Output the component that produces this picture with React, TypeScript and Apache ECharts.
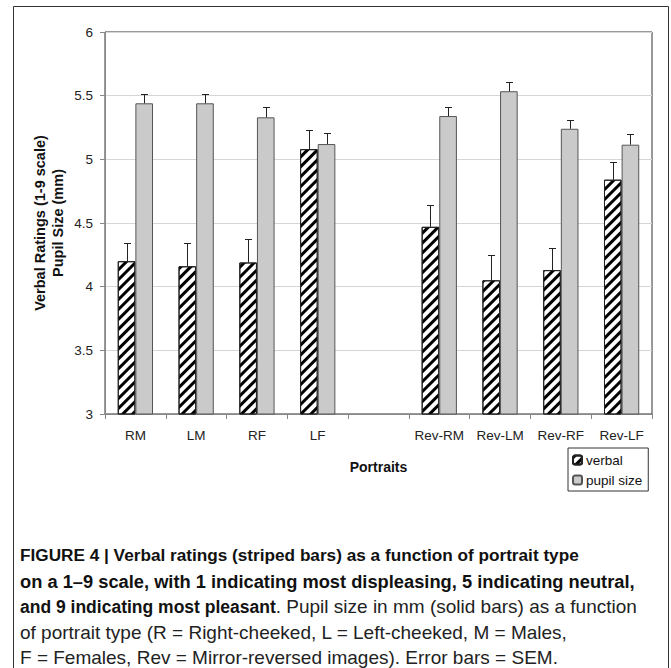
import React, { useEffect, useRef } from 'react';
import * as echarts from 'echarts';

const categories = ['RM', 'LM', 'RF', 'LF', '', 'Rev-RM', 'Rev-LM', 'Rev-RF', 'Rev-LF'];
const verbal = [4.2, 4.16, 4.19, 5.08, null, 4.47, 4.05, 4.13, 4.84];
const verbalErr = [0.146, 0.186, 0.183, 0.147, null, 0.17, 0.195, 0.17, 0.14];
const pupil = [5.44, 5.44, 5.33, 5.12, null, 5.34, 5.535, 5.24, 5.115];
const pupilErr = [0.075, 0.07, 0.08, 0.085, null, 0.07, 0.07, 0.07, 0.084];
const seriesNames = ['verbal', 'pupil size'];
const yAxisTitle = ['Verbal Ratings (1-9 scale)', 'Pupil Size (mm)'];
const xAxisTitle = 'Portraits';
const captionLines: any[] = [
  [{ t: 'FIGURE 4 | Verbal ratings (striped bars) as a function of portrait type', b: true }],
  [{ t: 'on a 1\u20139 scale, with 1 indicating most displeasing, 5 indicating neutral,', b: true }],
  [{ t: 'and 9 indicating most pleasant', b: true }, { t: '. Pupil size in mm (solid bars) as a function', b: false }],
  [{ t: 'of portrait type (R = Right-cheeked, L = Left-cheeked, M = Males,', b: false }],
  [{ t: 'F = Females, Rev = Mirror-reversed images). Error bars = SEM.', b: false }],
];

const FONT = 'Liberation Sans, Arial, Helvetica, sans-serif';
const GAP = 0.42;

function errSeries(vals: any[], errs: any[], side: number) {
  const data = vals
    .map((v, i) => (v == null ? null : [i, v, errs[i]]))
    .filter((d) => d !== null);
  return {
    type: 'custom',
    z: 5,
    silent: true,
    data,
    encode: { x: 0, y: 1 },
    renderItem: (params: any, api: any) => {
      const i = api.value(0);
      const v = api.value(1);
      const e = api.value(2);
      const band = api.size([1, 0])[0];
      const off = ((band * (1 - GAP)) / 4) * side;
      const base = api.coord([i, v]);
      const top = api.coord([i, v + e]);
      const x = Math.round(base[0] + off) + 0.5;
      const yt = Math.round(top[1]) + 0.5;
      return {
        type: 'group',
        children: [
          { type: 'line', shape: { x1: x, y1: base[1], x2: x, y2: yt }, style: { stroke: '#222', lineWidth: 1 } },
          { type: 'line', shape: { x1: x - 3.5, y1: yt, x2: x + 3.5, y2: yt }, style: { stroke: '#222', lineWidth: 1 } },
        ],
      };
    },
  };
}

export default function App() {
  const ref = useRef<HTMLDivElement>(null);
  useEffect(() => {
    document.body.style.margin = '0';
    const chart = echarts.init(ref.current as HTMLDivElement, undefined, { renderer: 'svg' });
    const captionY = [555, 581, 606.5, 632, 657.5];
    const boldSizes = [17.2, 18.3, 17.5, 17.5, 17.5];
    const NS = 19;
    const captionGraphics = captionLines.map((line, li) => {
      const rich: any = {
        b: { fontWeight: 'bold', fontSize: boldSizes[li], fontFamily: FONT, fill: '#111', height: 20 },
        n: { fontWeight: 'normal', fontSize: NS, fontFamily: FONT, fill: '#222', height: 20 },
      };
      const text = line.map((s: any) => `{${s.b ? 'b' : 'n'}|${s.t}}`).join('');
      return {
        type: 'text',
        x: 20,
        y: captionY[li],
        style: { text, rich, fontSize: boldSizes[li], fontFamily: FONT, verticalAlign: 'middle', align: 'left' },
      };
    });
    chart.setOption({
      animation: false,
      textStyle: { fontFamily: FONT },
      grid: { left: 105, top: 32, right: 19, bottom: 254, show: true, borderColor: '#333', borderWidth: 1 },
      legend: {
        data: seriesNames,
        orient: 'vertical',
        left: 568,
        top: 448,
        width: 80,
        padding: [5, 6, 4, 4],
        itemGap: 6,
        itemWidth: 9,
        itemHeight: 9,
        borderColor: '#333',
        borderWidth: 1,
        backgroundColor: '#fff',
        textStyle: { fontSize: 13.5, color: '#111', fontFamily: FONT, padding: [0, 0, 0, -1] },
      },
      xAxis: {
        type: 'category',
        data: categories,
        name: xAxisTitle,
        nameLocation: 'middle',
        nameGap: 46,
        nameTextStyle: { fontWeight: 'bold', fontSize: 14, color: '#111' },
        axisLine: { lineStyle: { color: '#888', width: 1 } },
        axisTick: { show: true, length: 5, lineStyle: { color: '#888' } },
        axisLabel: { fontSize: 13.5, color: '#222', margin: 14, interval: 0 },
      },
      yAxis: {
        type: 'value',
        min: 3,
        max: 6,
        interval: 0.5,
        axisLine: { show: true, lineStyle: { color: '#888', width: 1 } },
        axisTick: { show: true, length: 5, lineStyle: { color: '#888' } },
        axisLabel: { fontSize: 13.5, color: '#222', margin: 12 },
        splitLine: { show: true, lineStyle: { color: '#d6d6d6', width: 1 } },
      },
      series: [
        {
          name: seriesNames[0],
          type: 'bar',
          data: verbal,
          itemStyle: {
            color: '#fff',
            borderColor: '#222',
            borderWidth: 1,
            decal: {
              symbol: 'rect',
              symbolSize: 1,
              color: '#000',
              dashArrayX: [1, 0],
              dashArrayY: [3, 4],
              rotation: -Math.PI / 4,
            },
          },
        },
        {
          name: seriesNames[1],
          type: 'bar',
          data: pupil,
          barGap: '0%',
          barCategoryGap: `${GAP * 100}%`,
          itemStyle: { color: '#cacaca', borderColor: '#555', borderWidth: 1 },
        },
        errSeries(verbal, verbalErr, -1),
        errSeries(pupil, pupilErr, 1),
      ],
      graphic: [
        {
          type: 'rect',
          shape: { x: 13.5, y: 6.5, width: 655, height: 670 },
          style: { fill: 'none', stroke: '#333', lineWidth: 1 },
          silent: true,
          z: -10,
        },
        {
          type: 'text',
          x: 49,
          y: 223,
          rotation: Math.PI / 2,
          style: {
            text: yAxisTitle.join('\n'),
            fontSize: 14.5,
            fontWeight: 'bold',
            fontFamily: FONT,
            fill: '#111',
            align: 'center',
            verticalAlign: 'middle',
            lineHeight: 18,
          },
        },
        ...captionGraphics,
      ],
    });
    return () => chart.dispose();
  }, []);
  return <div ref={ref} style={{ width: 671, height: 668 }} />;
}
